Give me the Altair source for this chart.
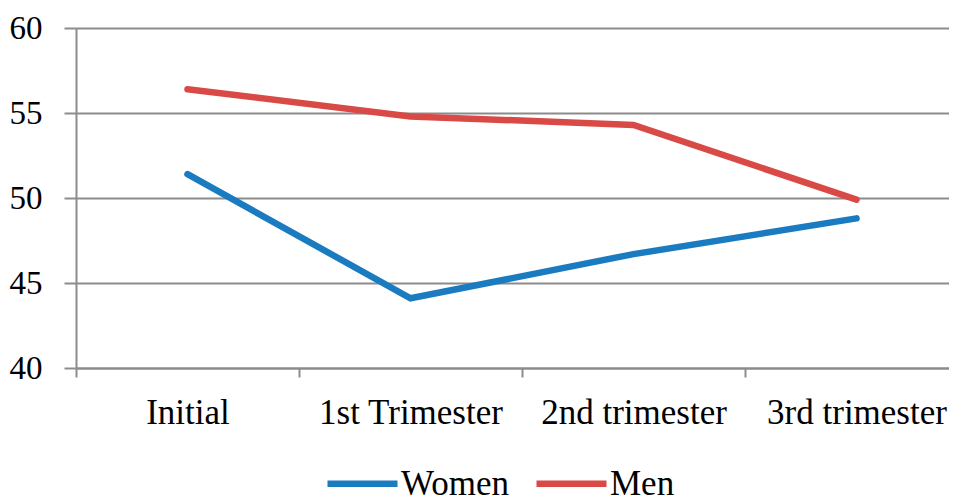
import altair as alt
import pandas as pd

categories = ["Initial", "1st Trimester", "2nd trimester", "3rd trimester"]
women = [51.4, 44.1, 46.7, 48.8]
men = [56.4, 54.8, 54.3, 49.9]
series = ["Women", "Men"]
colors = ["#1a7bc0", "#d94a47"]
y_ticks = [40, 45, 50, 55, 60]

rows = []
for i, (c, w, m) in enumerate(zip(categories, women, men)):
    rows.append({"cat": c, "pos": i + 0.5, "series": "Women", "value": w})
    rows.append({"cat": c, "pos": i + 0.5, "series": "Men", "value": m})
df = pd.DataFrame(rows)

FONT = "Liberation Serif"
GRID = "#8c8c8c"
label_list = "[" + ",".join("'" + c + "'" for c in categories) + "]"
W = 873

chart = alt.Chart(df).mark_line(strokeWidth=6.5, strokeCap="round", strokeJoin="miter").encode(
    x=alt.X("pos:Q", title=None,
            scale=alt.Scale(domain=[0, W / 223], nice=False, zero=False),
            axis=alt.Axis(values=[0, 1, 2, 3], labelExpr=label_list + "[datum.value]",
                          labelOffset=111.5, labelAngle=0, labelFlush=False, labelOverlap=False,
                          labelLimit=0, domainColor=GRID, domainWidth=2,
                          tickColor=GRID, tickWidth=2, tickSize=9, labelFont=FONT, labelFontSize=35,
                          labelColor="black", labelPadding=18, grid=False)),
    y=alt.Y("value:Q", title=None,
            scale=alt.Scale(domain=[40, 60], nice=False, zero=False),
            axis=alt.Axis(values=y_ticks, grid=True, gridColor=GRID, gridWidth=2,
                          domainColor=GRID, domainWidth=2, tickColor=GRID, tickWidth=2, tickSize=12,
                          labelFont=FONT, labelFontSize=33, labelColor="black", labelPadding=22)),
    color=alt.Color("series:N", sort=series,
                    scale=alt.Scale(domain=series, range=colors),
                    legend=alt.Legend(title=None, orient="none", direction="horizontal",
                                      legendX=248, legendY=417, symbolType="stroke",
                                      symbolSize=4900, symbolStrokeWidth=6.5, labelFont=FONT,
                                      labelFontSize=35, labelColor="black", labelOffset=0,
                                      columnPadding=14, labelLimit=0)),
    detail="series:N",
).properties(
    width=W, height=340,
    autosize=alt.AutoSizeParams(type="none"),
    padding={"left": 68, "top": 20, "right": 0, "bottom": 127},
).configure_view(stroke=None).configure(background="white")

chart.save("out.html", embed_options={"renderer": "svg", "actions": False})
